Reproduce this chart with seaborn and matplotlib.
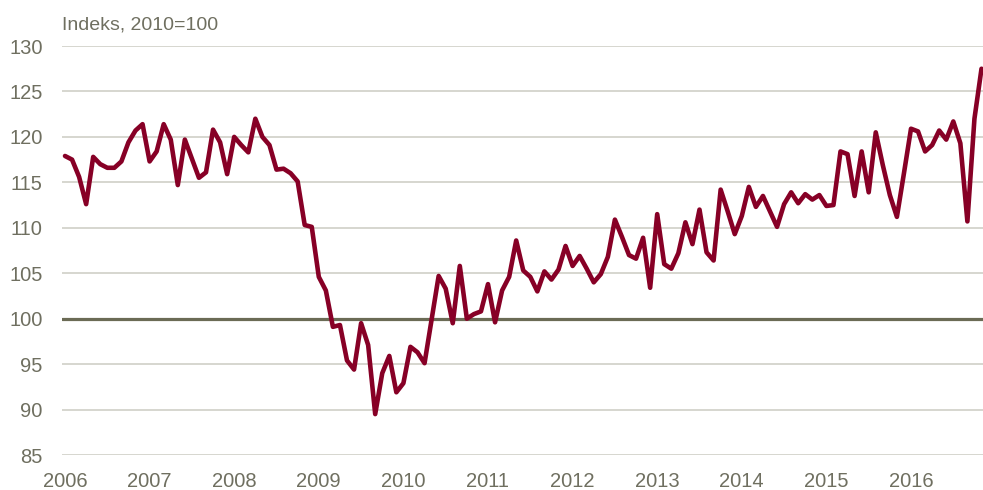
import matplotlib
matplotlib.use("Agg")
import matplotlib.pyplot as plt
import seaborn as sns
import pandas as pd
import numpy as np

# ---- data (monthly index, 2010=100), Jan 2006 - Nov 2016 ----
v2006 = [117.9, 117.5, 115.6, 112.6, 117.8, 117.0, 116.6, 116.6, 117.3, 119.4, 120.7, 121.4]
v2007 = [117.3, 118.4, 121.4, 119.7, 114.7, 119.7, 117.6, 115.5, 116.1, 120.8, 119.4, 115.9]
v2008 = [120.0, 119.1, 118.3, 122.0, 120.0, 119.1, 116.4, 116.5, 116.0, 115.1, 110.3, 110.1]
v2009 = [104.6, 103.1, 99.1, 99.3, 95.4, 94.4, 99.5, 97.1, 89.5, 94.0, 95.9, 91.9]
v2010 = [92.9, 96.9, 96.3, 95.1, 99.9, 104.7, 103.3, 99.5, 105.8, 100.0, 100.5, 100.8]
v2011 = [103.8, 99.6, 103.1, 104.6, 108.6, 105.3, 104.6, 103.0, 105.2, 104.3, 105.4, 108.0]
v2012 = [105.8, 106.9, 105.5, 104.0, 104.9, 106.8, 110.9, 109.0, 107.0, 106.6, 108.9, 103.4]
v2013 = [111.5, 106.0, 105.5, 107.2, 110.6, 108.2, 112.0, 107.3, 106.4, 114.2, 111.8, 109.3]
v2014 = [111.3, 114.5, 112.3, 113.5, 111.8, 110.1, 112.6, 113.9, 112.7, 113.7, 113.1, 113.6]
v2015 = [112.4, 112.5, 118.4, 118.1, 113.5, 118.4, 113.9, 120.5, 116.9, 113.6, 111.2, 116.0]
v2016 = [120.9, 120.6, 118.4, 119.1, 120.7, 119.7, 121.7, 119.3, 110.7, 122.0, 127.5]

values = v2006 + v2007 + v2008 + v2009 + v2010 + v2011 + v2012 + v2013 + v2014 + v2015 + v2016
start_year = 2006
years = list(range(2006, 2017))
y_ticks = [85, 90, 95, 100, 105, 110, 115, 120, 125, 130]
y_label = "Indeks, 2010=100"

t = [start_year + i / 12 for i in range(len(values))]
df = pd.DataFrame({"t": t, "value": values})

# ---- style ----
sns.set_style("white")
plt.rcParams["font.family"] = ["Liberation Sans Narrow", "Liberation Sans", "DejaVu Sans"]

text_col = "#6f6f60"
line_col = "#870026"
grid_col = "#cbcbc2"
ref_col = "#6b6b55"

fig = plt.figure(figsize=(9.83, 4.90), dpi=100)
ax = fig.add_axes([62 / 983, 1 - 455 / 490, 1 - 62 / 983, (455 - 46) / 490])

for yv in y_ticks:
    if yv == 100:
        continue
    ax.axhline(yv, color=grid_col, lw=1.1, zorder=0)
ax.axhline(100, color=ref_col, lw=2.3, zorder=1)

sns.lineplot(data=df, x="t", y="value", ax=ax, color=line_col, lw=3.3, zorder=3)

ax.set_xlim(start_year - 3 / 84.6, start_year + (983 - 65) / 84.6)
ax.set_ylim(85, 130)
ax.set_xticks(years)
ax.set_xticklabels([str(y) for y in years])
ax.set_yticks(y_ticks)
ax.set_yticklabels([str(y) for y in y_ticks])
ax.tick_params(axis="both", length=0, labelsize=14.5, colors=text_col)
ax.tick_params(axis="y", pad=14)
ax.tick_params(axis="x", pad=12)
for s in ax.spines.values():
    s.set_visible(False)
ax.set_xlabel("")
ax.set_ylabel("")
ax.grid(False)

fig.text(62 / 983, 1 - 25 / 490, y_label, fontsize=14, color=text_col, ha="left", va="center")

fig.savefig("out.png", dpi=100)
